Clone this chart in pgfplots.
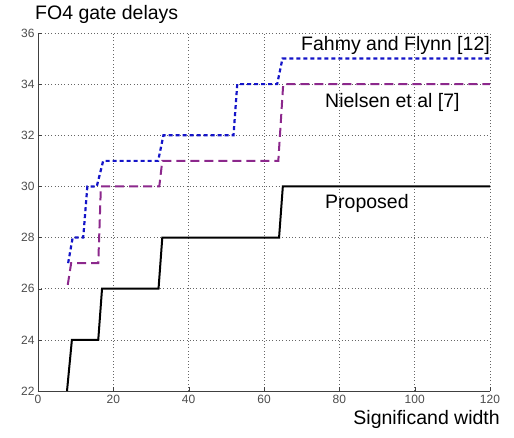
\documentclass[border=0pt]{standalone}
\usepackage{pgfplots}
\pgfplotsset{compat=1.18}
\usepackage{fontspec}
\setmainfont{Liberation Sans}
\definecolor{fblue}{RGB}{20,20,200}
\definecolor{npurple}{RGB}{140,40,140}
\begin{document}
\begin{tikzpicture}
\path[use as bounding box] (0,0) rectangle (514pt,437pt);
\begin{axis}[
  at={(38pt,46pt)}, anchor=south west,
  scale only axis, width=452pt, height=358pt,
  xmin=0, xmax=120, ymin=22, ymax=36,
  xtick={0,20,...,120}, ytick={22,24,...,36},
  axis x line*=bottom, axis y line*=left,
  axis line style={-, black!75, line width=0.8pt},
  tick align=inside, major tick length=4pt,
  tick style={black!75},
  grid=major, grid style={black!60, line width=0.7pt, dash pattern=on 0.7pt off 2.6pt},
  ticklabel style={font=\fontsize{12}{14}\selectfont, text=black!70},
  /pgf/number format/assume math mode=true,
  xticklabel style={yshift=-1pt},
  clip=false,
]
\addplot[black, line width=2pt] coordinates {
(7.7,22) (9,24) (16,24) (17,26) (32,26) (33,28) (64,28) (65,30) (120,30)};
\addplot[npurple, line width=2pt, dash pattern=on 9pt off 5pt] coordinates {
(7.9,26.15) (8.8,27) (16,27) (16.7,30) (32.2,30) (33,31) (63.8,31) (65.1,34) (120,34)};
\addplot[fblue, line width=2.2pt, dash pattern=on 4pt off 3pt] coordinates {
(8,27) (9.2,28) (12,28) (13.1,30) (15.6,30) (17.3,31) (31.9,31) (33.3,32) (51.9,32) (52.9,34) (63.5,34) (64.9,35) (120,35)};
\node[anchor=east, font=\fontsize{19.5}{22}\selectfont, inner sep=0pt] at (axis cs:120,35.53) {Fahmy and Flynn [12]};
\node[anchor=west, font=\fontsize{19.5}{22}\selectfont, inner sep=0pt] at (axis cs:76.2,33.3) {Nielsen et al [7]};
\node[anchor=west, font=\fontsize{19.5}{22}\selectfont, inner sep=0pt] at (axis cs:76.2,29.35) {Proposed};
\node[anchor=west, font=\fontsize{19.5}{22}\selectfont, inner sep=0pt] at (axis cs:-0.8,36.74) {FO4 gate delays};
\end{axis}
\node[anchor=east, font=\fontsize{19.5}{22}\selectfont, inner sep=0pt] at (500pt,18pt) {Significand width};
\end{tikzpicture}
\end{document}
